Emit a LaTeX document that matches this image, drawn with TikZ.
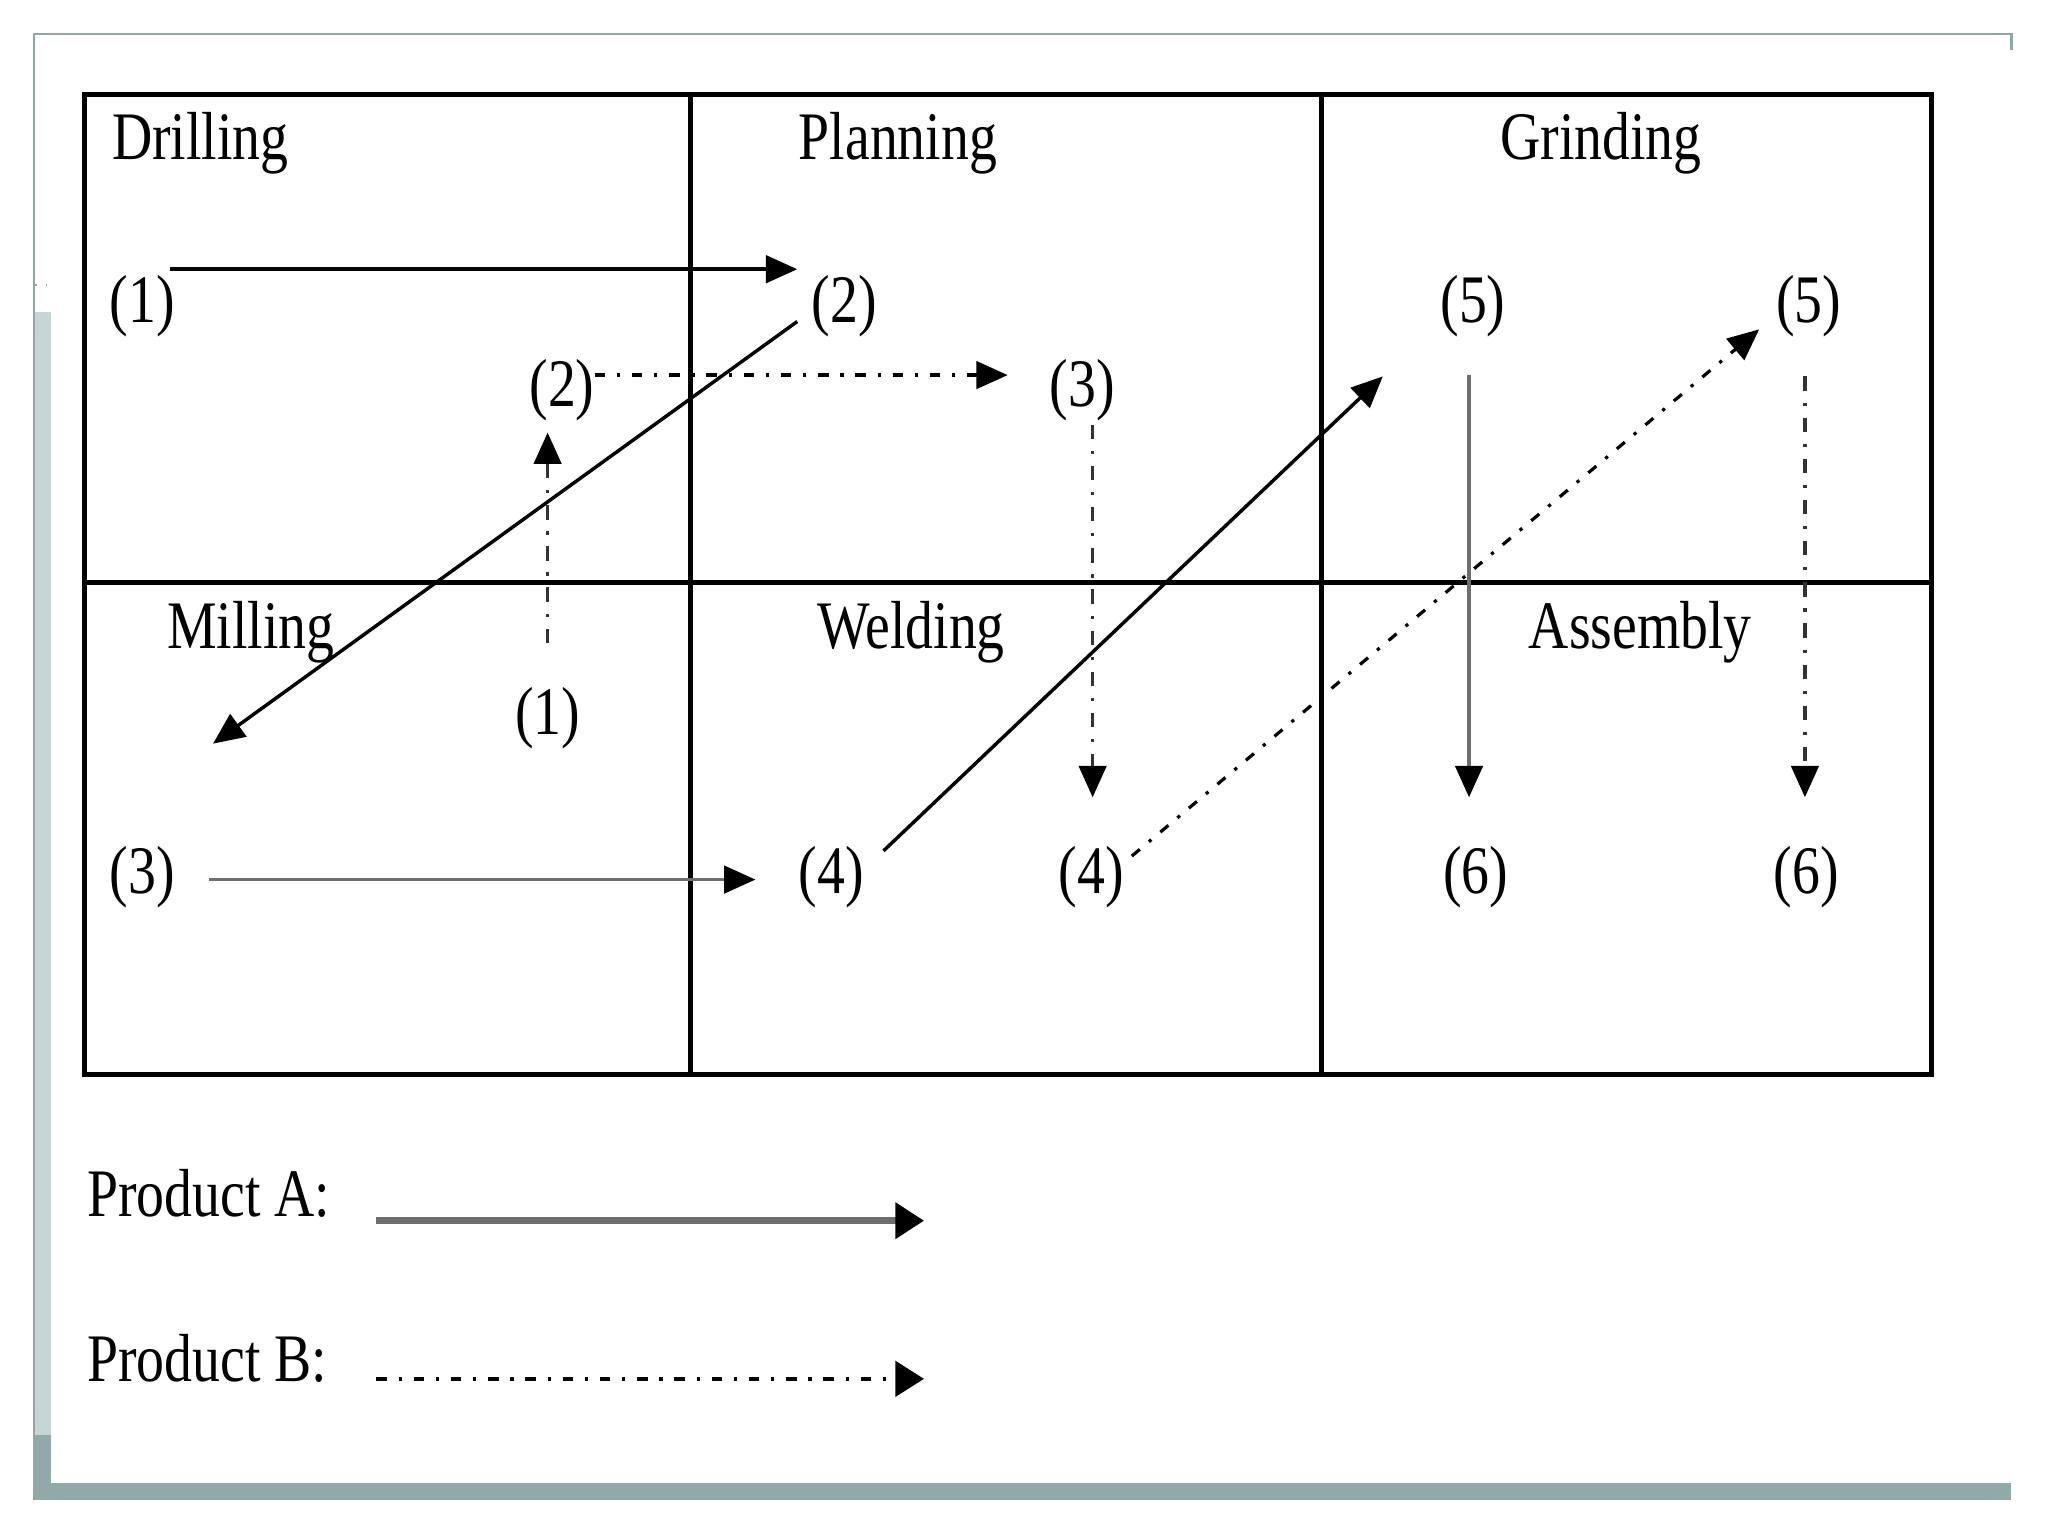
\documentclass[tikz,border=0pt]{standalone}
\usepackage{fontspec}
\setmainfont{Liberation Serif}[FakeStretch=0.82]
\usetikzlibrary{arrows.meta}
\definecolor{frameline}{HTML}{8CA9A5}
\definecolor{framelight}{HTML}{C6D5D5}
\definecolor{framedark}{HTML}{8FAAA8}
\definecolor{agray}{HTML}{6E6E6E}
\begin{document}
\begin{tikzpicture}[x=0.1mm,y=-0.1mm,
  font=\fontsize{14.8pt}{16pt}\selectfont,
  lbl/.style={inner sep=0pt, anchor=base},
  titlel/.style={inner sep=0pt, anchor=base west},
  grid/.style={line width=1.1pt, black},
  tip/.style={-{Triangle[length=2.4mm,width=2.1mm,color=black,fill=black]}},
  prodA/.style={tip, line width=0.75pt, black},
  prodB/.style={tip, line width=0.7pt, black,
    dash pattern=on 0.8mm off 0.9mm on 0.25mm off 0.9mm},
  prodBv/.style={tip, line width=0.7pt, black!80,
    dash pattern=on 1.1mm off 0.9mm on 0.25mm off 0.9mm}
]
\useasboundingbox (0,0) rectangle (1567,1175);
% page frame
\fill[framelight] (26,239) rectangle (39,1098);
\fill[framedark] (26,1098) rectangle (39,1148);
\fill[framedark] (26,1135) rectangle (1539,1148);
\draw[frameline, line width=0.5pt] (26,1148) -- (26,26) -- (1539,26) -- (1539,38);
\draw[gray!70, line width=0.3pt, dotted] (27,218) -- (38,218);

% grid
\draw[grid] (65,72) rectangle (1478,822);
\draw[grid] (528,72) -- (528,822);
\draw[grid] (1011,72) -- (1011,822);
\draw[grid] (65,446) -- (1478,446);

% department titles
\node[titlel] (drill) at (85,122) {Drilling};
\node[lbl] (plan) at (687,122) {Planning};
\node[lbl] (grind) at (1225,122) {Grinding};
\node[lbl] (mill) at (192,496) {Milling};
\node[lbl] (weld) at (697,496) {Welding};
\node[lbl] (assy) at (1255,496) {Assembly};

% operation labels
\node[lbl] (d1) at (109,247) {(1)};
\node[lbl] (p2) at (646,247) {(2)};
\node[lbl] (d2) at (430,311) {(2)};
\node[lbl] (p3) at (828,311) {(3)};
\node[lbl] (g5a) at (1127,247) {(5)};
\node[lbl] (g5b) at (1384,247) {(5)};
\node[lbl] (m1) at (419,562) {(1)};
\node[lbl] (m3) at (109,684) {(3)};
\node[lbl] (w4a) at (636,684) {(4)};
\node[lbl] (w4b) at (835,684) {(4)};
\node[lbl] (a6a) at (1129,684) {(6)};
\node[lbl] (a6b) at (1382,684) {(6)};

% connector end points
\coordinate (a1s) at (130,206);  \coordinate (a1e) at (610,206);
\coordinate (a2s) at (610,246);  \coordinate (a2e) at (163,569);
\coordinate (a3s) at (160,673);  \coordinate (a3e) at (578,673);
\coordinate (a4s) at (676,651);  \coordinate (a4e) at (1058,288);
\coordinate (a5s) at (1124,287); \coordinate (a5e) at (1124,610);
\coordinate (b1s) at (419,492);  \coordinate (b1e) at (419,331);
\coordinate (b2s) at (455,287);  \coordinate (b2e) at (771,287);
\coordinate (b3s) at (836,325);  \coordinate (b3e) at (836,610);
\coordinate (b4s) at (866,655);  \coordinate (b4e) at (1346,252);
\coordinate (b5s) at (1381,288); \coordinate (b5e) at (1381,610);

% product A
\draw[prodA] (a1s) -- (a1e);
\draw[prodA] (a2s) -- (a2e);
\draw[prodA, agray] (a3s) -- (a3e);
\draw[prodA] (a4s) -- (a4e);
\draw[prodA, agray] (a5s) -- (a5e);
% product B
\draw[prodBv] (b1s) -- (b1e);
\draw[prodB] (b2s) -- (b2e);
\draw[prodBv] (b3s) -- (b3e);
\draw[prodB] (b4s) -- (b4e);
\draw[prodBv] (b5s) -- (b5e);

% legend
\node[titlel] (la) at (66,931) {Product A:};
\node[titlel] (lb) at (66,1057) {Product B:};
\coordinate (las) at (288,934); \coordinate (lae) at (707,934);
\coordinate (lbs) at (288,1055); \coordinate (lbe) at (707,1055);
\draw[line width=1.4pt, agray, -{Triangle[length=2.2mm,width=2.7mm,fill=black,color=black]}] (las) -- (lae);
\draw[line width=0.9pt, black, dash pattern=on 0.8mm off 0.9mm on 0.25mm off 0.9mm,
  -{Triangle[length=2.2mm,width=2.7mm]}] (lbs) -- (lbe);
\end{tikzpicture}
\end{document}
